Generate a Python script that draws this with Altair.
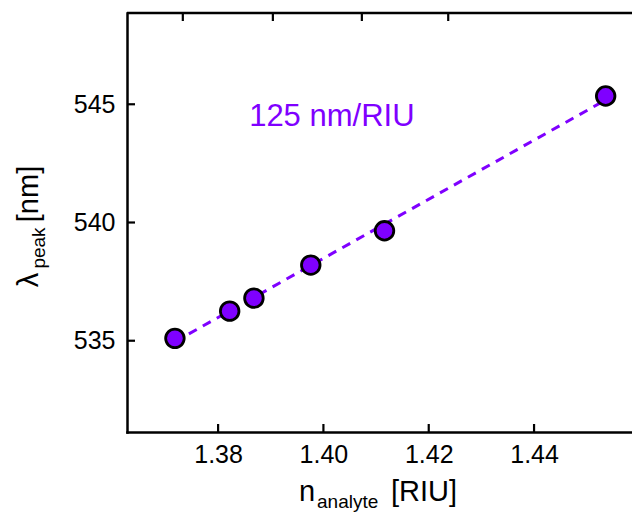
import altair as alt
import pandas as pd

# Refractive index of the analyte vs. plasmon peak wavelength
n_analyte = [1.3718, 1.3822, 1.3868, 1.3976, 1.4116, 1.4536]
lambda_peak = [535.10, 536.25, 536.80, 538.20, 539.65, 545.35]
sensitivity = 125  # nm/RIU, slope of the dashed fit line

x_ticks = [1.38, 1.40, 1.42, 1.44]
y_ticks = [535, 540, 545]
top_ticks = [1.3733, 1.3904, 1.4073, 1.4237]

annotation = ["125 nm/RIU"]
annotation_n = [1.4016]
annotation_lambda = [544.10]

X_DOMAIN = [1.3627, 1.4586]
Y_DOMAIN = [531.14, 548.86]
W, H = 505, 419
PURPLE = "#7f00ff"
FONT = "Liberation Sans"
TICK = 8

points = pd.DataFrame({"n": n_analyte, "lam": lambda_peak})
x_mean, y_mean = points["n"].mean(), points["lam"].mean()
fit = pd.DataFrame({"n": [min(n_analyte), max(n_analyte)]})
fit["lam"] = y_mean + sensitivity * (fit["n"] - x_mean)

xs = alt.Scale(domain=X_DOMAIN, nice=False, zero=False)
ys = alt.Scale(domain=Y_DOMAIN, nice=False, zero=False)

x_axis = alt.Axis(values=x_ticks, format=".2f", ticks=False, grid=False, title=None,
                  labelFont=FONT, labelFontSize=25, labelColor="black", labelPadding=10,
                  domainColor="black", domainWidth=2.5, domainCap="square")
y_axis = alt.Axis(values=y_ticks, format="d", ticks=False, grid=False, title=None,
                  labelFont=FONT, labelFontSize=25, labelColor="black", labelPadding=12,
                  domainColor="black", domainWidth=2.5, domainCap="square")


def X(field):
    return alt.X(field, scale=xs, axis=x_axis)


def Y(field):
    return alt.Y(field, scale=ys, axis=y_axis)


fit_line = alt.Chart(fit).mark_line(
    color=PURPLE, strokeWidth=3, strokeDash=[9, 7]
).encode(x=X("n:Q"), y=Y("lam:Q"))

dots = alt.Chart(points).mark_circle(
    size=345, color=PURPLE, opacity=1, stroke="black", strokeWidth=2.8
).encode(x=X("n:Q"), y=Y("lam:Q"))

label = alt.Chart(pd.DataFrame({
    "text": annotation, "n": annotation_n, "lam": annotation_lambda
})).mark_text(
    font=FONT, fontSize=31, color=PURPLE, align="center", baseline="alphabetic"
).encode(x=X("n:Q"), y=Y("lam:Q"), text="text:N")

# inward ticks on the bottom, top and left edges
bottom_ticks = alt.Chart(pd.DataFrame({"n": x_ticks})).mark_rule(
    color="black", strokeWidth=2.2
).encode(x=X("n:Q"), y=alt.value(H), y2=alt.value(H - TICK))

upper_ticks = alt.Chart(pd.DataFrame({"n": top_ticks})).mark_rule(
    color="black", strokeWidth=2.2
).encode(x=X("n:Q"), y=alt.value(0), y2=alt.value(TICK))

left_ticks = alt.Chart(pd.DataFrame({"lam": y_ticks})).mark_rule(
    color="black", strokeWidth=2.2
).encode(y=Y("lam:Q"), x=alt.value(0), x2=alt.value(TICK))

top_spine = alt.Chart(pd.DataFrame({"t": [0]})).mark_rule(
    color="black", strokeWidth=2.5
).encode(x=alt.value(0), x2=alt.value(W + 2), y=alt.value(0))


def text_piece(s, x, y, size, angle=0, align="left"):
    return alt.Chart(pd.DataFrame({"s": [s]})).mark_text(
        font=FONT, fontSize=size, color="black", align=align,
        baseline="alphabetic", angle=angle
    ).encode(text="s:N", x=alt.value(x), y=alt.value(y))


# axis titles with subscripts
titles = [
    text_piece("n", 172, 488, 29),
    text_piece("analyte", 190, 495, 19),
    text_piece("[RIU]", 264, 488, 29),
    text_piece("λ", -89, 267, 29, angle=270, align="center"),
    text_piece("peak", -82, 235, 19, angle=270, align="center"),
    text_piece("[nm]", -89, 181, 29, angle=270, align="center"),
]

chart = alt.layer(
    fit_line, dots, label, bottom_ticks, upper_ticks, left_ticks, top_spine, *titles
).properties(
    width=W, height=H,
    padding={"left": 127, "top": 13, "right": 0, "bottom": 84},
    autosize=alt.AutoSizeParams(type="none"),
).configure_view(stroke=None)

chart.save("out.html", embed_options={"renderer": "svg", "actions": False})
